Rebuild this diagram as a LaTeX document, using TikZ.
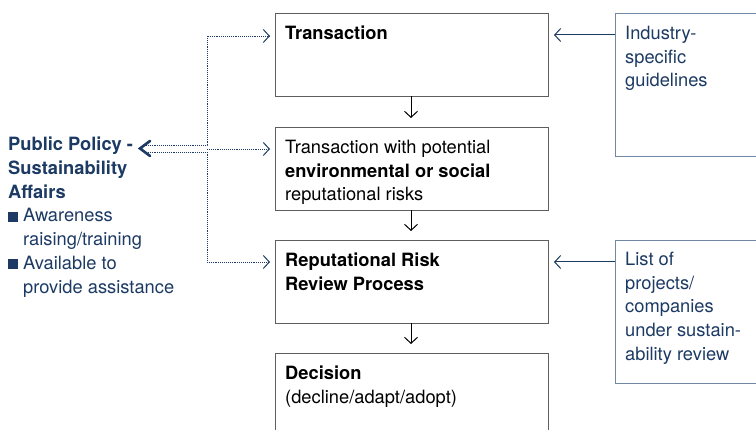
\documentclass[tikz,border=0pt]{standalone}
\usepackage{fontspec}
\setmainfont{TeX Gyre Heros}
\usetikzlibrary{arrows.meta}
\definecolor{ubsblue}{HTML}{1C3A63}
\definecolor{boxgray}{HTML}{5E5E5E}
\definecolor{sidegray}{HTML}{7088A3}
\newcommand{\bul}{\rule{10pt}{10pt}\hspace{5pt}}
\tikzset{
  x=1pt, y=-1pt,
  txt/.style={anchor=north west, inner sep=0pt, align=left, font=\fontsize{18.3}{23.7}\selectfont},
  mainbox/.style={draw=boxgray, line width=0.95pt},
  sidebox/.style={draw=sidegray, line width=0.95pt},
  flow/.style={draw=black, line width=1pt, -{Straight Barb[length=6pt,width=13pt,line width=1pt]}},
  feed/.style={draw=ubsblue, line width=1pt, -{Straight Barb[length=6pt,width=13pt,line width=1pt]}},
  dotc/.style={draw=ubsblue, line width=0.9pt, dotted},
  dota/.style={dotc, -{Straight Barb[length=6pt,width=13pt,line width=1pt,sep=0pt]}, densely dotted}
}
\begin{document}
\begin{tikzpicture}
\useasboundingbox (0,0) rectangle (756,430);
% main boxes
\draw[mainbox] (275,13) rectangle (548,96);
\draw[mainbox] (275,127) rectangle (548,210);
\draw[mainbox] (275,240) rectangle (548,323);
\draw[mainbox] (275,353) rectangle (548,445);
\coordinate (b1b) at (411,96);
\coordinate (b2t) at (411,118);
\coordinate (b2b) at (411,210);
\coordinate (b3t) at (411,231);
\coordinate (b3b) at (411,323);
\coordinate (b4t) at (411,344);
% side boxes
\draw[sidebox] (615,13) rectangle (770,156);
\draw[sidebox] (615,240) rectangle (770,383);
% texts
\node[txt] (t1) at (285,26) {\textbf{Transaction}};
\node[txt] (t2) at (285,140) {Transaction with potential\\\textbf{environmental or social}\\reputational risks};
\node[txt] (t3) at (285,253) {\textbf{Reputational Risk}\\\textbf{Review Process}};
\node[txt] (t4) at (285,366) {\textbf{Decision}\\(decline/adapt/adopt)};
\node[txt, text=ubsblue] (s1) at (625,26) {Industry-\\specific\\guidelines};
\node[txt, text=ubsblue] (s2) at (625,252) {List of\\projects/\\companies\\under sustain-\\ability review};
\node[txt, text=ubsblue] (pp) at (8,137) {\textbf{Public Policy -}\\\textbf{Sustainability}\\\textbf{Affairs}\\\bul Awareness\\\hspace*{15pt}raising/training\\\bul Available to\\\hspace*{15pt}provide assistance};
% flow arrows
\draw[flow] (b1b) -- (b2t);
\draw[flow] (b2b) -- (b3t);
\draw[flow] (b3b) -- (b4t);
% side feed arrows
\coordinate (s1a) at (615,35);
\coordinate (s1t) at (554,35);
\coordinate (s2a) at (615,262);
\coordinate (s2t) at (554,262);
\draw[feed] (s1a) -- (s1t);
\draw[feed] (s2a) -- (s2t);
% public policy connectors
\coordinate (ppu) at (144,145);
\coordinate (ppl) at (144,152);
\coordinate (ju) at (207,145);
\coordinate (jl) at (207,152);
\coordinate (jm) at (207,149);
\coordinate (a1) at (270,36);
\coordinate (a2) at (270,149);
\coordinate (a3) at (270,262);
\draw[dota] (ppu) -- (ju) |- (a1);
\draw[dota] (ppl) -- (jl) |- (a3);
\draw[dota] (jm) -- (a2);
\draw[ubsblue, line width=2.6pt, line cap=round, line join=miter] (150,141) -- (140,148.5) -- (150,156);
\end{tikzpicture}
\end{document}
